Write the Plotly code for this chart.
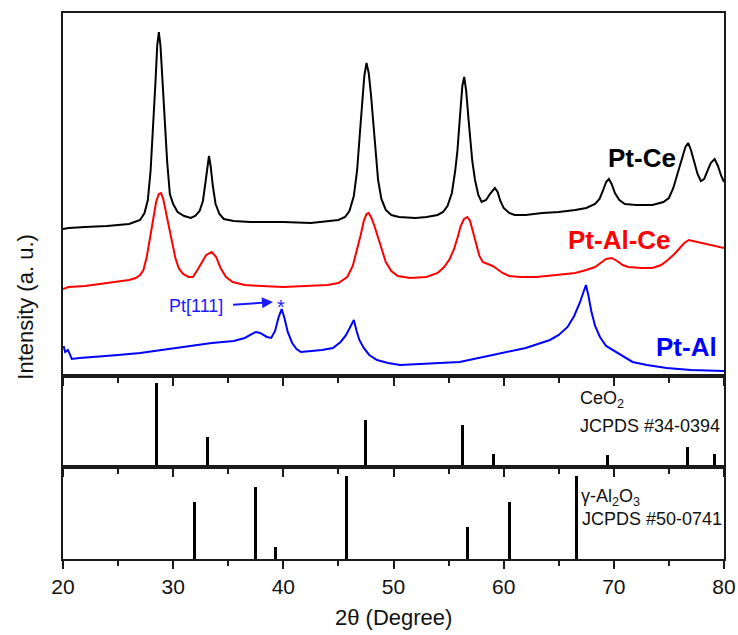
import plotly.graph_objects as go

# ---- XRD patterns (2-theta in degrees, stacked intensity in a.u.) ----
ptce_x = [20.0, 20.5, 22.0, 24.0, 26.0, 27.0, 27.4, 27.7, 27.95, 28.2, 28.4, 28.55, 28.7, 28.85,
          29.0, 29.2, 29.45, 29.7, 30.0, 30.4, 31.0, 31.6, 32.0, 32.4, 32.7, 32.95, 33.1, 33.25,
          33.4, 33.6, 33.85, 34.2, 34.6, 35.5, 37.0, 40.0, 42.5, 45.0, 45.6, 46.0, 46.4, 46.7,
          46.95, 47.15, 47.35, 47.55, 47.75, 47.95, 48.15, 48.4, 48.6, 48.9, 49.3, 49.8, 50.5,
          52.0, 53.0, 54.0, 54.5, 54.9, 55.3, 55.6, 55.8, 56.05, 56.25, 56.42, 56.6, 56.8, 56.95,
          57.15, 57.4, 57.7, 58.0, 58.4, 58.75, 59.0, 59.2, 59.45, 59.7, 60.0, 60.5, 61.0, 62.0,
          63.5, 65.0, 66.5, 67.5, 68.3, 68.7, 69.0, 69.3, 69.55, 69.8, 70.1, 70.5, 71.0, 72.0,
          73.5, 74.5, 75.0, 75.4, 75.8, 76.2, 76.5, 76.75, 77.0, 77.3, 77.6, 77.9, 78.2, 78.5,
          78.8, 79.15, 79.45, 79.75, 80.0]
ptce_y = [147, 148, 149, 150, 152, 156, 163, 176, 205, 250, 295, 330, 344, 330,
          300, 258, 215, 182, 172, 164, 160, 158, 160, 165, 175, 195, 210, 220,
          210, 190, 172, 162, 157, 155, 154, 154, 153, 156, 159, 165, 180, 206,
          243, 274, 300, 313, 303, 282, 256, 222, 196, 177, 166, 161, 159,
          158, 159, 161, 164, 170, 183, 205, 225, 262, 290, 299, 285, 258, 238,
          215, 196, 181, 174, 176, 182, 186, 188, 184, 175, 168, 163, 161, 161,
          163, 164, 166, 168, 172, 177, 185, 194, 197, 192, 183, 176, 172, 171,
          171, 174, 178, 188, 203, 218, 229, 233, 226, 214, 202, 195, 197, 205,
          213, 217, 210, 200, 194]

ptalce_x = [20.0, 20.5, 22.0, 24.0, 26.0, 26.6, 27.0, 27.3, 27.6, 27.9, 28.2, 28.45, 28.7, 28.9,
            29.1, 29.35, 29.6, 29.9, 30.2, 30.5, 30.9, 31.4, 31.8, 32.2, 32.6, 33.0, 33.5, 33.9,
            34.3, 34.8, 35.4, 36.5, 38.0, 40.0, 42.0, 44.0, 45.0, 45.8, 46.3, 46.7, 47.0, 47.3,
            47.55, 47.75, 48.0, 48.3, 48.6, 49.0, 49.3, 49.8, 50.4, 51.5, 53.0, 54.0, 54.6, 55.1,
            55.5, 55.8, 56.1, 56.4, 56.7, 56.95, 57.2, 57.5, 57.8, 58.1, 58.5, 59.0, 59.4, 59.9,
            60.5, 61.5, 63.0, 65.0, 66.5, 67.5, 68.3, 68.8, 69.3, 69.8, 70.3, 70.8, 71.3, 72.5,
            73.5, 74.3, 74.9, 75.5, 76.0, 76.4, 76.8, 77.2, 77.8, 78.5, 79.2, 80.0]
ptalce_y = [87, 89, 90, 93, 96, 98, 101, 106, 119, 138, 158, 174, 182, 183,
            177, 164, 149, 133, 118, 108, 102, 99, 99, 106, 114, 121, 124, 119,
            108, 99, 94, 91, 90, 89, 90, 91, 93, 99, 110, 126, 140, 155,
            162, 163, 158, 149, 138, 124, 114, 105, 100, 98, 99, 103, 109, 117,
            127, 138, 150, 157, 159, 155, 145, 132, 120, 114, 112, 110, 107, 103,
            100, 99, 99, 101, 103, 106, 109, 113, 117, 118, 115, 111, 109, 108,
            108, 111, 116, 122, 128, 133, 136, 135, 133, 131, 130, 128]

ptal_x = [20.05, 20.2, 20.45, 20.8, 21.5, 23.0, 25.0, 27.0, 29.0, 31.0, 33.5, 35.5, 36.5, 37.0,
          37.5, 37.9, 38.5, 38.9, 39.25, 39.55, 39.85, 40.1, 40.4, 40.8, 41.2, 41.6, 42.5, 43.5,
          44.5, 45.2, 45.7, 46.1, 46.4, 46.65, 46.9, 47.3, 47.8, 48.5, 49.5, 50.6, 53.0, 56.0,
          59.0, 62.0, 64.2, 65.0, 65.8, 66.4, 66.9, 67.25, 67.47, 67.7, 67.95, 68.3, 68.74, 69.3,
          70.3, 71.7, 73.0, 74.8, 77.0, 80.0]
ptal_y = [30, 24, 26, 17, 18, 19, 21, 23, 26, 29, 33, 35, 38, 41,
          44, 43, 39, 38, 45, 58, 67, 58, 44, 33, 27, 24, 25, 26,
          28, 34, 41, 49, 56, 45, 36, 28, 21, 16, 13, 11, 12, 14,
          21, 28, 36, 41, 49, 60, 73, 85, 91, 80, 65, 50, 39, 30,
          23, 14, 11, 8, 6, 5]

# ---- reference stick patterns (relative intensity, %) ----
ceo2_pos = [28.5, 33.1, 47.5, 56.3, 59.1, 69.4, 76.7, 79.1]
ceo2_int = [100, 36, 56, 50, 15, 14, 24, 16]
al2o3_pos = [31.9, 37.5, 39.3, 45.7, 56.7, 60.5, 66.6]
al2o3_int = [69, 87, 15, 100, 38, 69, 100]

x_ticks = [20, 30, 40, 50, 60, 70, 80]

FONT = "Liberation Sans, Arial, sans-serif"
INK = "#111111"
AXIS = "#1a1a1a"

fig = go.Figure()

fig.add_trace(go.Scatter(x=ptce_x, y=ptce_y, mode="lines", line=dict(color="#000000", width=2),
                         xaxis="x", yaxis="y", showlegend=False))
fig.add_trace(go.Scatter(x=ptalce_x, y=ptalce_y, mode="lines", line=dict(color="#ff0000", width=2),
                         xaxis="x", yaxis="y", showlegend=False))
fig.add_trace(go.Scatter(x=ptal_x, y=ptal_y, mode="lines", line=dict(color="#0000ff", width=2),
                         xaxis="x", yaxis="y", showlegend=False))

fig.add_trace(go.Bar(x=ceo2_pos, y=ceo2_int, width=0.27, marker=dict(color="#000000", line=dict(width=0)),
                     xaxis="x2", yaxis="y2", showlegend=False))
fig.add_trace(go.Bar(x=al2o3_pos, y=al2o3_int, width=0.27, marker=dict(color="#000000", line=dict(width=0)),
                     xaxis="x3", yaxis="y3", showlegend=False))

frame = dict(showline=True, linecolor=AXIS, linewidth=1.8, mirror=True,
             showgrid=False, zeroline=False, automargin=False)
xcommon = dict(frame, range=[20, 80], tickvals=x_ticks, ticks="outside", ticklen=8, tickwidth=1.8,
               tickcolor=AXIS,
               minor=dict(dtick=5, tick0=20, ticks="outside", ticklen=5, tickwidth=1.8, tickcolor=AXIS))
ycommon = dict(frame, showticklabels=False, ticks="")

fig.update_layout(
    width=738, height=635,
    margin=dict(l=63, r=14, t=13, b=76),
    paper_bgcolor="white", plot_bgcolor="white",
    bargap=0,
    xaxis=dict(xcommon, anchor="y", showticklabels=False),
    xaxis2=dict(xcommon, anchor="y2", matches="x", showticklabels=False),
    xaxis3=dict(xcommon, anchor="y3", matches="x", showticklabels=True,
                tickfont=dict(family=FONT, size=21, color=INK)),
    yaxis=dict(ycommon, domain=[0.3352, 1.0], range=[0, 363]),
    yaxis2=dict(ycommon, domain=[0.1685, 0.3352], range=[0, 108.3]),
    yaxis3=dict(ycommon, domain=[0.0, 0.1685], range=[0, 110.8]),
)

ann = []
# sample labels
ann.append(dict(x=72.6, y=218, xref="x", yref="y", text="<b>Pt-Ce</b>",
                font=dict(family=FONT, size=26, color="#000000")))
ann.append(dict(x=70.51, y=136, xref="x", yref="y", text="<b>Pt-Al-Ce</b>",
                font=dict(family=FONT, size=26, color="#ff0000")))
ann.append(dict(x=76.6, y=29, xref="x", yref="y", text="<b>Pt-Al</b>",
                font=dict(family=FONT, size=26, color="#0000ff")))
# Pt(111) marker
ann.append(dict(x=32.07, y=70, xref="x", yref="y", text="Pt[111]",
                font=dict(family=FONT, size=18, color="#1a1aff")))
ann.append(dict(x=39.06, y=74, xref="x", yref="y", ax=35.3, ay=71, axref="x", ayref="y",
                text="", showarrow=True, arrowhead=2, arrowsize=1.1, arrowwidth=2,
                arrowcolor="#1a1aff"))
ann.append(dict(x=39.79, y=69, xref="x", yref="y", text="*",
                font=dict(family=FONT, size=20, color="#1a1aff")))
# reference card labels
ann.append(dict(x=66.75, y=80.9, xref="x2", yref="y2", text="CeO<sub>2</sub>",
                xanchor="left", font=dict(family=FONT, size=18, color=INK)))
ann.append(dict(x=66.75, y=48.8, xref="x2", yref="y2", text="JCPDS #34-0394",
                xanchor="left", font=dict(family=FONT, size=18, color=INK)))
ann.append(dict(x=66.84, y=73.5, xref="x3", yref="y3", text="γ-Al<sub>2</sub>O<sub>3</sub>",
                xanchor="left", font=dict(family=FONT, size=18, color=INK)))
ann.append(dict(x=66.93, y=48.2, xref="x3", yref="y3", text="JCPDS #50-0741",
                xanchor="left", font=dict(family=FONT, size=18, color=INK)))
# axis titles
ann.append(dict(x=-0.058, y=0.4615, xref="paper", yref="paper", text="Intensity (a. u.)",
                textangle=-90, xanchor="center", font=dict(family=FONT, size=22, color=INK)))
ann.append(dict(x=0.5, y=-0.108, xref="paper", yref="paper", text="2θ (Degree)",
                xanchor="center", font=dict(family=FONT, size=22, color=INK)))
for a in ann:
    a.setdefault("showarrow", False)
    a.setdefault("yanchor", "middle")
    a.setdefault("xanchor", "center")
fig.update_layout(annotations=ann)

fig.write_html("out.html")
